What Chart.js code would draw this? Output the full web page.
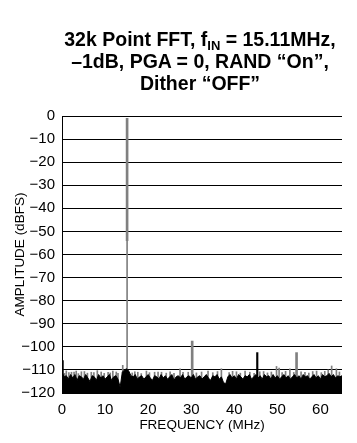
<!DOCTYPE html>
<html>
<head>
<meta charset="utf-8">
<script src="https://cdn.jsdelivr.net/npm/chart.js@4.4.1/dist/chart.umd.min.js"></script>
<style>
    html, body { margin: 0; padding: 0; background: #fff; }
    #wrap { position: relative; width: 357px; height: 443px; }
    #c { position: absolute; left: 0; top: 0; }
    #title {
        position: absolute; left: 43px; width: 314px; top: 28px;
        text-align: center; color: #000;
        font: bold 19.5px 'Liberation Sans', Arial, sans-serif;
        line-height: 22px;
    }
    #title sub { font-size: 13px; vertical-align: -4px; line-height: 0; }
</style>
</head>
<body>
<div id="wrap">
    <canvas id="c" width="357" height="443"></canvas>
    <div id="title">32k Point FFT, f<sub>IN</sub> = 15.11MHz,<br>–1dB, PGA = 0, RAND “On”,<br>Dither “OFF”</div>
</div>
<script>
// valores (MHz / dBFS)
const yTicks = [0, -10, -20, -30, -40, -50, -60, -70, -80, -90, -100, -110, -120];
const xTicks = [0, 10, 20, 30, 40, 50, 60];

// piso de ruído (preto), um ponto a cada 0.5 MHz de 0 a 65
const floorStep = 0.5;
const floorLevel = [
    -111, -113, -112.5, -114, -112, -113.5, -112, -114.5, -112.5, -113,
    -114, -112, -113.5, -115, -112.5, -113, -114.5, -112, -113.5, -112.5,
    -114, -113, -112, -114.5, -113, -112.5, -114, -117.5, -111, -110,
    -109.5, -110.5, -112.5, -113, -112, -114, -113, -112.5, -114, -113,
    -112, -113.5, -114.5, -112.5, -113, -114, -112, -113.5, -112.5, -114,
    -113, -112, -114.5, -113, -112.5, -113.5, -112, -114, -113, -112.5,
    -113.5, -112, -114, -113, -112.5, -114, -113, -112, -113.5, -114.5,
    -112.5, -113, -112, -114, -113, -115.5, -116, -113, -112, -113.5,
    -112.5, -114, -112, -113, -114, -112.5, -113, -112, -114, -113,
    -112, -113.5, -112.5, -114, -112, -113, -112.5, -114, -112, -113.5,
    -112.5, -114, -113, -112, -113.5, -112.5, -114, -113, -112, -113.5,
    -112.5, -114, -112, -113, -112.5, -114, -113, -112, -113.5, -112.5,
    -114, -112, -113, -112.5, -111.5, -113, -112, -113.5, -112.5, -113,
    -112.5
];

// "grama" cinza acima do piso
const grassFreq = [
    0.6, 1.0, 1.6, 2.2, 2.8, 3.3, 3.8, 4.5, 5.2, 5.9, 6.8, 7.4, 8.2, 9.1, 9.8, 10.7, 11.2, 11.8,
    12.6, 13.0, 14.1, 16.3, 16.9, 17.6, 18.4, 19.6, 20.3, 21.5, 22.3, 23.1, 24.2, 25.1, 26.0,
    27.4, 28.1, 29.3, 31.2, 32.4, 33.9, 35.0, 36.1, 37.0, 38.8, 39.6, 40.5, 41.4, 42.5, 43.6,
    44.6, 45.9, 46.8, 47.7, 48.6, 49.8, 50.4, 51.1, 51.9, 52.9, 53.8, 55.5, 56.4, 57.3, 58.2,
    59.1, 60.2, 61.0, 61.8, 62.6, 63.7, 64.4
];
const grassLevel = [
    -111.5, -110.4, -111.2, -111, -110.9, -110.5, -111.6, -110.8, -110.7, -111.4, -111, -111.2, -110.3, -110.9, -111.5, -111, -111.3, -110.5,
    -110.9, -111.5, -108, -111.3, -110.8, -111, -111.6, -110.5, -111.2, -111, -110.9, -111, -111.4, -110.8, -111.5,
    -109.5, -111, -111, -111.3, -110.9, -110.5, -111.2, -110.7, -109.5, -111.1, -110.6, -110.8, -111.4, -110.5, -111,
    -111.5, -110.8, -110.7, -111.3, -110.9, -108.5, -109.2, -111.2, -110.6, -109.5, -111.1, -110.8, -111, -111.4, -110.7,
    -110.5, -111.2, -110.6, -110, -108.3, -109.5, -110.9
];

// espúrios
const graySpurFreq = [30.22, 54.45];
const graySpurLevel = [-97.5, -102.5];
const blackSpurFreq = [0.15, 45.33];
const blackSpurLevel = [-106, -102.5];

// fundamental
const fundFreq = 15.11;
const fundPeak = -1;
const fundKnee = -54;

const axisMin = -120;
const axisMax = 0;
const freqMax = 65;

const GRAY = '#808080';
const FONT = "'Liberation Sans', Arial, sans-serif";

function bars(freqs, levels) {
    return freqs.map(function (f, i) { return { x: f, y: [axisMin, levels[i]] }; });
}

const floorData = floorLevel.map(function (v, i) { return { x: i * floorStep, y: v }; });

Chart.defaults.font.family = FONT;
Chart.defaults.color = '#000';

// order menor = desenhado por cima
new Chart(document.getElementById('c').getContext('2d'), {
    type: 'bar',
    data: {
        datasets: [
            {
                // parte grossa da fundamental
                data: [{ x: fundFreq, y: [fundKnee, fundPeak] }],
                backgroundColor: GRAY,
                barThickness: 2,
                order: 2
            },
            {
                data: [{ x: fundFreq, y: [axisMin, fundKnee] }],
                backgroundColor: GRAY,
                barThickness: 1,
                order: 2
            },
            {
                data: bars(graySpurFreq, graySpurLevel),
                backgroundColor: GRAY,
                barThickness: 2,
                order: 2
            },
            {
                data: bars(blackSpurFreq, blackSpurLevel),
                backgroundColor: '#000',
                barThickness: 1.5,
                order: 2
            },
            {
                type: 'line',
                data: floorData,
                borderColor: '#000',
                backgroundColor: '#000',
                borderWidth: 1,
                pointRadius: 0,
                tension: 0,
                fill: 'start',
                order: 1
            },
            {
                data: bars(grassFreq, grassLevel),
                backgroundColor: GRAY,
                barThickness: 1,
                order: 3
            }
        ]
    },
    options: {
        responsive: false,
        animation: false,
        devicePixelRatio: 1,
        datasets: { bar: { grouped: false } },
        layout: { padding: { top: 116, right: 15, left: 0, bottom: 0 } },
        plugins: {
            legend: { display: false },
            tooltip: { enabled: false }
        },
        scales: {
            x: {
                type: 'linear',
                min: 0,
                max: freqMax,
                offset: false,
                afterFit: function (s) { s.height = 50; },
                afterBuildTicks: function (s) { s.ticks = xTicks.map(function (v) { return { value: v }; }); },
                grid: { display: false, drawTicks: false },
                border: { display: false },
                ticks: { padding: 8, font: { size: 15 }, color: '#000', maxRotation: 0 },
                title: {
                    display: true,
                    text: 'FREQUENCY (MHz)',
                    font: { size: 13.5 },
                    color: '#000',
                    padding: { top: 0, bottom: 10 }
                }
            },
            y: {
                min: axisMin,
                max: axisMax,
                afterFit: function (s) { s.width = 62; },
                afterBuildTicks: function (s) { s.ticks = yTicks.map(function (v) { return { value: v }; }); },
                grid: { color: '#000', lineWidth: 1, drawTicks: false },
                border: { display: true, color: '#000', width: 1 },
                ticks: {
                    padding: 7,
                    font: { size: 15 },
                    color: '#000',
                    callback: function (v) { return v < 0 ? '\u2212' + Math.abs(v) : String(v); }
                },
                title: {
                    display: true,
                    text: 'AMPLITUDE (dBFS)',
                    font: { size: 13.5 },
                    color: '#000',
                    padding: { top: 12, bottom: 0 }
                }
            }
        }
    }
});
</script>
</body>
</html>
